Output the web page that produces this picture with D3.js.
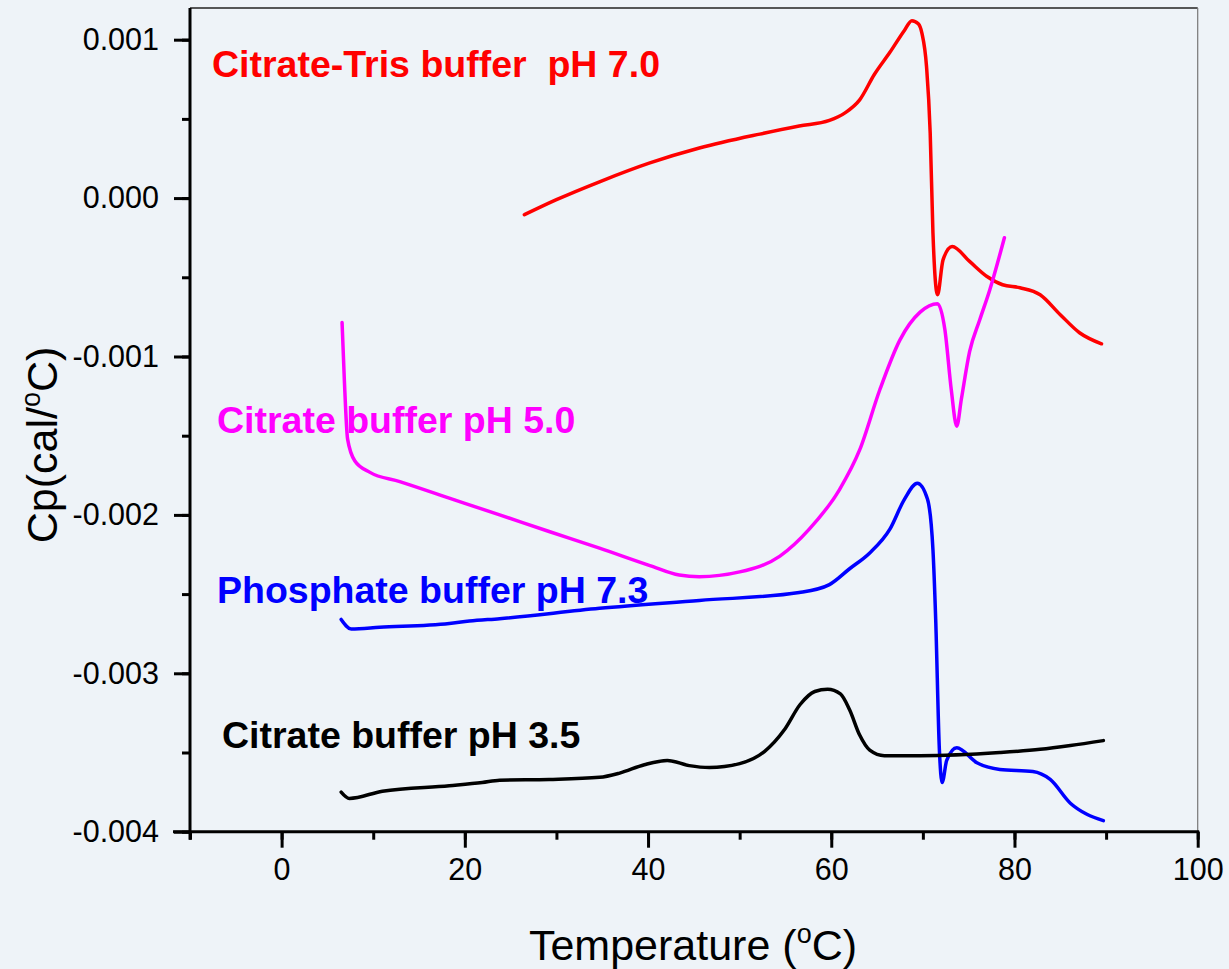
<!DOCTYPE html>
<html><head><meta charset="utf-8">
<script src="https://cdn.jsdelivr.net/npm/d3@7/dist/d3.min.js"></script>
<style>
html,body{margin:0;padding:0;background:#eef3f8;}
svg{display:block;font-family:"Liberation Sans",Arial,sans-serif;}
</style></head>
<body>
<svg id="chart" width="1229" height="969"></svg>
<script>
// Temperature (°C) and Cp (cal/°C)
const tris70T = [26.5,30,34.7,40.2,45.6,52.2,56.5,59.8,61.5,63.1,64.7,66.4,68.0,68.8,69.5,69.9,70.4,70.8,71.1,71.6,72.2,73.2,75.1,77.0,78.7,80.6,82.8,85.0,87.1,89.5];
const tris70V = [-0.000105,-0.00001,0.000103,0.000222,0.000316,0.000404,0.000455,0.00049,0.000538,0.00062,0.00078,0.00092,0.00106,0.00112,0.0011,0.00104,0.00083,0.00041,-0.00022,-0.00061,-0.00039,-0.000305,-0.0004,-0.000495,-0.000547,-0.000566,-0.00061,-0.000736,-0.00085,-0.00092];

const cit50T = [6.6,6.85,7.2,8.0,9.6,12.9,18.3,23.8,29.2,34.7,40.2,43.4,45.6,50.0,54.4,57.6,60.9,63.1,65.3,67.5,69.7,71.6,72.4,73.1,73.7,74.2,75.1,76.2,77.3,78.9];
const cit50V = [-0.000786,-0.00115,-0.00152,-0.00166,-0.00173,-0.00179,-0.001894,-0.002,-0.002105,-0.00221,-0.00232,-0.00238,-0.00239,-0.00236,-0.00226,-0.00209,-0.00184,-0.00159,-0.00121,-0.000895,-0.00072,-0.000667,-0.00083,-0.00121,-0.00144,-0.00127,-0.00097,-0.00077,-0.00058,-0.00025];

const phos73T = [6.5,7.6,10.7,18.3,20.5,23.8,34.7,45.6,56.5,59.8,62.0,64.2,66.4,68.0,69.4,70.5,71.1,71.4,71.8,72.1,72.6,73.7,75.9,78.4,82.0,83.9,86.1,87.9,89.7];
const phos73V = [-0.00266,-0.00272,-0.00271,-0.002685,-0.00267,-0.002655,-0.00259,-0.00254,-0.00249,-0.00244,-0.00234,-0.00224,-0.00209,-0.0019,-0.0018,-0.0019,-0.00222,-0.00266,-0.00348,-0.00369,-0.00355,-0.00347,-0.003565,-0.003607,-0.00362,-0.00367,-0.00382,-0.00389,-0.00393];

const cit35T = [6.5,7.4,11.0,18.3,21.9,23.8,29.2,34.7,36.9,39.6,42.1,44.5,46.7,50.0,52.7,54.9,56.6,58.2,59.6,61.0,62.0,63.1,64.2,65.8,69.7,78.4,82.8,86.1,89.7];
const cit35V = [-0.00375,-0.00379,-0.003744,-0.00371,-0.00369,-0.003675,-0.00367,-0.003657,-0.00363,-0.003577,-0.00355,-0.003583,-0.003595,-0.00357,-0.003494,-0.003355,-0.003197,-0.003115,-0.0031,-0.00313,-0.00323,-0.00339,-0.003485,-0.00352,-0.00352,-0.0035,-0.00348,-0.003456,-0.003425];

const seriesNames = ["Citrate-Tris buffer  pH 7.0","Citrate buffer pH 5.0","Phosphate buffer pH 7.3","Citrate buffer pH 3.5"];
const seriesColors = ["#ff0000","#ff00ff","#0000ff","#000000"];
const xTicks = [0,20,40,60,80,100];
const yTicks = [0.001,0,-0.001,-0.002,-0.003,-0.004];
const yTickLabels = ["0.001","0.000","-0.001","-0.002","-0.003","-0.004"];

const svg = d3.select("#chart");
const L = 190, R = 1197.7, T = 8, B = 831.7;
const x = d3.scaleLinear().domain([-10,100]).range([L,R]);
const y = d3.scaleLinear().domain([-0.004,0.0012]).range([B,T]);

svg.append("rect").attr("width",1229).attr("height",969).attr("fill","#eef3f8");

// frame top & right
svg.append("line").attr("x1",L).attr("x2",R).attr("y1",T).attr("y2",T).attr("stroke","#222").attr("stroke-width",1.5);
svg.append("line").attr("x1",R).attr("x2",R).attr("y1",T).attr("y2",B).attr("stroke","#777").attr("stroke-width",1.2);

// curves
const series = [
  {T:tris70T,V:tris70V},{T:cit50T,V:cit50V},{T:phos73T,V:phos73V},{T:cit35T,V:cit35V}
];
const line = d3.line().x(d=>x(d[0])).y(d=>y(d[1])).curve(d3.curveMonotoneX);
series.forEach((s,i)=>{
  const pts = s.T.map((t,j)=>[t,s.V[j]]);
  svg.append("path").attr("d",line(pts)).attr("fill","none")
    .attr("stroke",seriesColors[i]).attr("stroke-width",3.5).attr("stroke-linejoin","round").attr("stroke-linecap","round");
});

// series labels
const labelPos = [[212,77],[217,433],[217,603],[222,748]];
seriesNames.forEach((n,i)=>{
  svg.append("text").attr("x",labelPos[i][0]).attr("y",labelPos[i][1])
    .attr("fill",seriesColors[i]).attr("font-weight","bold").attr("font-size","37.5px")
    .attr("xml:space","preserve").style("white-space","pre").text(n);
});

// x axis
const xMinor = d3.range(-10,101,10);
const gxm = svg.append("g").attr("transform",`translate(0,${B})`)
  .call(d3.axisBottom(x).tickValues(xMinor).tickSize(8).tickFormat(""));
const gx = svg.append("g").attr("transform",`translate(0,${B})`)
  .call(d3.axisBottom(x).tickValues(xTicks).tickSize(16).tickPadding(11).tickFormat(d3.format("d")));
[gxm,gx].forEach(g=>{g.select(".domain").remove(); g.selectAll("line").attr("stroke","#000").attr("stroke-width",3);});
gx.selectAll("text").attr("font-size","30.5px").attr("fill","#000").attr("font-family","Liberation Sans, Arial, sans-serif");

// y axis
const yMinor = d3.range(-0.004,0.00101,0.0005);
const gym = svg.append("g").attr("transform",`translate(${L},0)`)
  .call(d3.axisLeft(y).tickValues(yMinor).tickSize(8).tickFormat(""));
const gy = svg.append("g").attr("transform",`translate(${L},0)`)
  .call(d3.axisLeft(y).tickValues(yTicks).tickSize(16).tickPadding(15).tickFormat((d,i)=>yTickLabels[i]));
[gym,gy].forEach(g=>{g.select(".domain").remove(); g.selectAll("line").attr("stroke","#000").attr("stroke-width",3);});
gy.selectAll("text").attr("font-size","30.5px").attr("fill","#000").attr("font-family","Liberation Sans, Arial, sans-serif");

// axis lines
svg.append("line").attr("x1",L).attr("x2",L).attr("y1",T).attr("y2",B+8).attr("stroke","#000").attr("stroke-width",3);
svg.append("line").attr("x1",L-17).attr("x2",R+1.5).attr("y1",B).attr("y2",B).attr("stroke","#000").attr("stroke-width",3);

// axis titles
const xt = svg.append("text").attr("x",693).attr("y",960).attr("text-anchor","middle").attr("font-size","43px").attr("fill","#000");
xt.append("tspan").text("Temperature (");
xt.append("tspan").attr("font-size","27px").attr("dy","-17").text("o");
xt.append("tspan").attr("dy","17").text("C)");

const yt = svg.append("text").attr("transform","translate(57,445) rotate(-90)").attr("text-anchor","middle").attr("font-size","43px").attr("fill","#000");
yt.append("tspan").text("Cp(cal/");
yt.append("tspan").attr("font-size","27px").attr("dy","-17").text("o");
yt.append("tspan").attr("dy","17").text("C)");
</script>
</body></html>
